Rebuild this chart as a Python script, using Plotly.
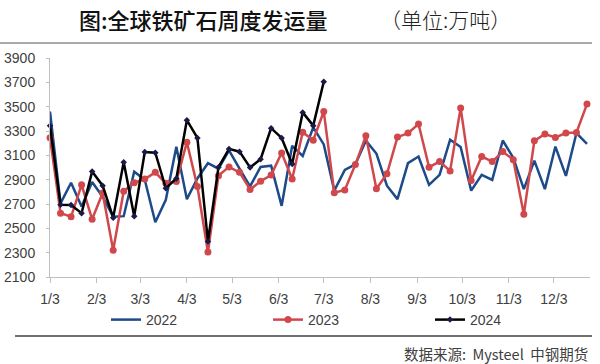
import plotly.graph_objects as go
import pandas as pd

# ---- data (万吨, weekly) ----
v2022 = [3460, 2705, 2875, 2680, 2880, 2760, 2595, 2600, 2965, 2900,
         2550, 2735, 3170, 2740, 2910, 3035, 2990, 3140, 2990, 2845,
         3005, 3015, 2685, 3178, 3095, 3330, 3190, 2810, 2980, 3025,
         3220, 3115, 2850, 2740, 3036, 3090, 2857, 2940, 3228, 3168,
         2810, 2940, 2898, 3222, 3080, 2822, 3057, 2822, 3172, 2931,
         3283, 3195]
v2023 = [3245, 2625, 2595, 2858, 2575, 2790, 2320, 2805, 2875, 2905,
         2960, 2870, 2885, 3208, 2843, 2305, 2933, 3005, 2960, 2820,
         2887, 2938, 3120, 2906, 3290, 3225, 3460, 2793, 2815, 3024,
         3260, 2825, 2948, 3250, 3283, 3358, 3003, 3049, 2972, 3490,
         2893, 3090, 3049, 3131, 3063, 2616, 3219, 3275, 3247, 3283,
         3288, 3521]
v2024 = [3343, 2693, 2692, 2625, 2967, 2851, 2588, 3043, 2600, 3127,
         3122, 2829, 2910, 3389, 3243, 2392, 3003, 3153, 3130, 3000,
         3068, 3323, 3243, 3028, 3453, 3344, 3705]

series_names = ["2022", "2023", "2024"]
tick_dates = ["2024-%02d-03" % m for m in range(1, 13)]
tick_labels = ["%d/3" % m for m in range(1, 13)]
y_ticks = list(range(2100, 3901, 200))

start = pd.Timestamp("2024-01-03")


def week_dates(n):
    return [start + pd.Timedelta(days=7 * i) for i in range(n)]


FONT = "Liberation Sans"
L, R, T, B = 50, 10, 58, 87
PW, PH = 600 - L - R, 364 - T - B


def px(x):
    return (x - L) / PW


def py(y):
    return (364 - B - y) / PH


fig = go.Figure()
fig.add_trace(go.Scatter(
    x=week_dates(len(v2022)), y=v2022, mode="lines", name=series_names[0],
    line=dict(color="#1d4a88", width=2.5), cliponaxis=False))
fig.add_trace(go.Scatter(
    x=week_dates(len(v2023)), y=v2023, mode="lines+markers", name=series_names[1],
    line=dict(color="#d0484b", width=2.5),
    marker=dict(size=7, color="#d0484b"), cliponaxis=False))
fig.add_trace(go.Scatter(
    x=week_dates(len(v2024)), y=v2024, mode="lines+markers", name=series_names[2],
    line=dict(color="#000000", width=2.5),
    marker=dict(size=5, symbol="diamond", color="#1a1a48"), cliponaxis=False))

fig.update_layout(
    width=600, height=364,
    margin=dict(l=L, r=R, t=T, b=B, autoexpand=False),
    paper_bgcolor="white", plot_bgcolor="white",
    font=dict(family=FONT, size=14, color="#404040"),
    showlegend=True,
    legend=dict(orientation="h", x=px(106), xanchor="left", y=py(320), yanchor="middle",
                entrywidth=117, entrywidthmode="pixels",
                font=dict(size=14, color="#404040"),
                bgcolor="rgba(0,0,0,0)", itemwidth=30, tracegroupgap=0),
    xaxis=dict(type="date", range=["2024-01-03", "2024-12-27"],
               tickmode="array", tickvals=tick_dates, ticktext=tick_labels,
               showgrid=False, zeroline=False, showline=True, linecolor="#bfbfbf",
               linewidth=1, ticks="outside", ticklen=5, tickcolor="#bfbfbf",
               ticklabelstandoff=4, automargin=False,
               tickfont=dict(size=14, color="#404040")),
    yaxis=dict(range=[2100, 3900], tickmode="array", tickvals=y_ticks,
               showgrid=False, zeroline=False, showline=True, linecolor="#bfbfbf",
               linewidth=1, ticks="outside", ticklen=3, tickcolor="#bfbfbf",
               ticklabelstandoff=8, automargin=False,
               tickfont=dict(size=14, color="#404040")),
    shapes=[
        dict(type="line", xref="paper", yref="paper", x0=px(0), x1=px(592),
             y0=py(43), y1=py(43), line=dict(color="#8c8c8c", width=1.5)),
        dict(type="line", xref="paper", yref="paper", x0=px(15), x1=px(592),
             y0=py(336), y1=py(336), line=dict(color="#404040", width=1.5)),
    ],
    annotations=[
        dict(text="图:全球铁矿石周度发运量", xref="paper", yref="paper",
             x=px(203), y=py(19), xanchor="center", yanchor="middle",
             showarrow=False,
             font=dict(family="Noto Sans CJK SC", size=22, color="#111111", weight=500)),
        dict(text="（单位:万吨）", xref="paper", yref="paper",
             x=px(445), y=py(19), xanchor="center", yanchor="middle",
             showarrow=False,
             font=dict(family="Noto Sans CJK SC", size=21, color="#222222", weight=300)),
        dict(text="数据来源:  Mysteel  中钢期货", xref="paper", yref="paper",
             x=px(590), y=py(353), xanchor="right", yanchor="middle",
             showarrow=False, font=dict(family="Noto Sans CJK SC", size=14.5, color="#404040")),
    ],
)

fig.write_html("out.html", config={"displayModeBar": False},
               post_script="document.body.style.margin='0';document.body.style.padding='0';")
